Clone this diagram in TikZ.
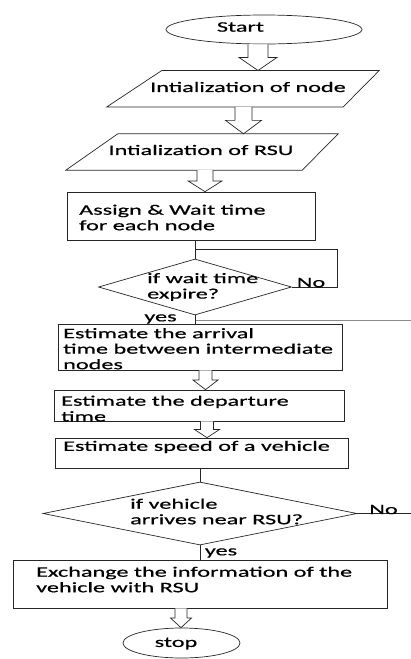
\documentclass[tikz,border=0pt]{standalone}
\usepackage{fontspec}
\setmainfont{Carlito}[FakeStretch=1.67,FakeBold=0.6]
\usetikzlibrary{shapes.geometric,calc}
\tikzset{
  ln/.style={draw=black!85, line width=0.7pt},
  shp/.style={ln, fill=white},
  ell/.style={ellipse, shp, inner sep=0pt},
  box/.style={rectangle, shp, inner sep=0pt},
  ghost/.style={rectangle, draw=none, inner sep=0pt},
  dia/.style={diamond, shp, inner sep=0pt},
  txt/.style={inner sep=0pt, align=left, font=\fontsize{14.5}{15.5}\selectfont},
  fatarr/.style={shp, line join=miter},
  faint/.style={draw=black!45, line width=0.7pt},
}
\newcommand\fatarrow[5]{%
  \draw[fatarr] let \p1=(#1.south), \p2=(#2.north), \p3=($(#1.south)!.5!(#2.north)$) in
    (#3pt-#4pt,\y1) -- (#3pt-#4pt,\y3) -- (#3pt-#5pt,\y3) -- (#3pt,\y2)
    -- (#3pt+#5pt,\y3) -- (#3pt+#4pt,\y3) -- (#3pt+#4pt,\y1);}
\begin{document}
\begin{tikzpicture}[x=1pt,y=-1pt]
\useasboundingbox (0,0) rectangle (411,659);

% shapes
\node[ell, minimum width=196pt, minimum height=29pt] (start) at (264,29.5) {};
\node[ghost, minimum width=272pt, minimum height=36pt] (p1) at (243,88.7) {};
\draw[shp] ([xshift=55pt]p1.north west) -- (p1.north east) -- ([xshift=-36pt]p1.south east) -- (p1.south west) -- cycle;
\node[ghost, minimum width=272pt, minimum height=36pt] (p2) at (202,152) {};
\draw[shp] ([xshift=52pt]p2.north west) -- (p2.north east) -- ([xshift=-36pt]p2.south east) -- (p2.south west) -- cycle;
\node[box, minimum width=248pt, minimum height=48pt] (b1) at (191,216) {};
\node[dia, minimum width=193pt, minimum height=56pt] (d1) at (195,287) {};
\node[box, minimum width=284pt, minimum height=46pt] (b2) at (200,347) {};
\node[box, minimum width=290pt, minimum height=31pt] (b3) at (199,405.5) {};
\node[box, minimum width=293pt, minimum height=30pt] (b4) at (201.5,453) {};
\node[dia, minimum width=314pt, minimum height=63pt] (d2) at (200,513.5) {};
\node[box, minimum width=374pt, minimum height=48pt] (b5) at (200,584) {};
\node[ell, minimum width=117pt, minimum height=30pt] (stop) at (181.5,643) {};

% block arrows
\fatarrow{start}{p1}{258}{10}{19}
\fatarrow{p1}{p2}{243.5}{8.5}{18}
\fatarrow{p2}{b1}{205}{8}{17}
\fatarrow{b2}{b3}{205.5}{6.5}{12.5}
\fatarrow{b3}{b4}{207}{6.5}{12.5}
\fatarrow{b5}{stop}{181}{6}{10.5}

% plain connectors
\coordinate (j1) at (195,249);
\coordinate (c1) at (337,249);
\draw[ln] (d1.north |- b1.south) -- (d1.north);
\draw[ln] (j1) -- (c1) |- (d1.east);
\draw[ln] (d1.south) -- (d1.south |- b2.north);
\coordinate (j2) at (196,320);
\coordinate (c2) at (411,320);
\draw[faint] (j2) -- (c2);
\draw[ln] (d2.north |- b4.south) -- (d2.north);
\coordinate (c3) at (411,513.5);
\draw[ln] (d2.east) -- (c3);
\draw[ln] (d2.south) -- (d2.south |- b5.north);

% texts
\node[txt] (tstart) at (240.5,27) {Start};
\node[txt] (tp1) at (248,87) {Intialization of node};
\node[txt] (tp2) at (201,150) {Intialization of RSU};
\node[txt, anchor=west] (tb1) at (79,217.5) {Assign \& Wait time\\for each node};
\node[txt, anchor=west] (td1) at (147,287) {if wait time\\expire?};
\node[txt] (tno1) at (311,282.5) {No};
\node[txt] (tyes1) at (160.5,319) {yes};
\node[txt, anchor=west] (tb2) at (63,348.7) {Estimate the arrival\\time between intermediate\\nodes};
\node[txt, anchor=west] (tb3) at (61,408.5) {Estimate the departure\\time};
\node[txt, anchor=west] (tb4) at (63,447) {Estimate speed of a vehicle};
\node[txt, anchor=west] (td2) at (130,511.5) {if vehicle\\arrives near RSU?};
\node[txt] (tno2) at (383.5,509.5) {No};
\node[txt] (tyes2) at (221,553) {yes};
\node[txt, anchor=west] (tb5) at (36,579.5) {Exchange the information of the\\vehicle with RSU};
\node[txt] (tstop) at (176,643.5) {stop};
\end{tikzpicture}
\end{document}
